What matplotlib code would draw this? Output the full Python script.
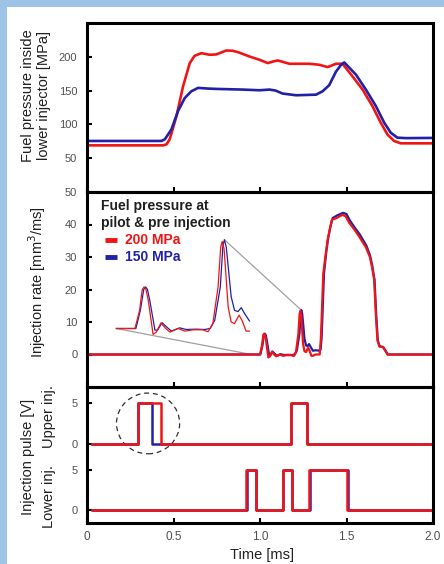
import numpy as np
import matplotlib
matplotlib.use('Agg')
import matplotlib.pyplot as plt
from matplotlib.patches import Ellipse, Rectangle

plt.rcParams['font.family'] = ['Liberation Sans', 'DejaVu Sans']

RED = '#f01414'
BLUE = '#2020a8'
GRAY_TXT = '#505050'

# ---------------- top panel: fuel pressure inside lower injector [MPa]
p_red_t = [0, 0.44, 0.46, 0.478, 0.517, 0.555, 0.594, 0.622, 0.661, 0.709, 0.747, 0.805,
           0.84, 0.872, 0.939, 0.997, 1.045, 1.075, 1.103, 1.17, 1.285, 1.343, 1.391,
           1.439, 1.477, 1.535, 1.593, 1.650, 1.698, 1.737, 1.775, 1.814, 2.0]
p_red_v = [69, 69, 70.5, 78, 112, 156, 190.7, 201.5, 205.4, 203, 203.5, 209.3,
           209, 206.9, 200.5, 195.6, 190.7, 193, 194.6, 189.7, 189.7, 188.2, 184.8,
           189.7, 189.7, 171, 151.5, 127, 102.5, 85, 75.5, 72, 72]
p_blue_t = [0, 0.43, 0.45, 0.488, 0.526, 0.565, 0.603, 0.642, 0.7, 0.747, 0.901, 0.997,
            1.055, 1.09, 1.131, 1.209, 1.324, 1.362, 1.40, 1.439, 1.468, 1.487, 1.555,
            1.612, 1.670, 1.718, 1.756, 1.794, 1.843, 2.0]
p_blue_v = [75.5, 75.5, 78, 92.6, 119.6, 139, 149, 154, 153, 152.5, 151.5, 150.5,
            151.5, 150, 145.6, 143.1, 144, 149, 158, 178, 188, 191.7, 173.5,
            151.5, 127, 102.5, 87.7, 80.4, 79.7, 80]

# ---------------- middle panel: injection rate [mm3/ms]
r_red_t = [0, 0.95, 0.9995, 1.012, 1.019, 1.024, 1.029, 1.035, 1.048, 1.057, 1.069,
           1.082, 1.093, 1.115, 1.133, 1.155, 1.181, 1.195, 1.208, 1.222, 1.229, 1.233,
           1.238, 1.249, 1.257, 1.266, 1.278, 1.286, 1.297, 1.306, 1.32, 1.345, 1.352,
           1.366, 1.38, 1.391, 1.405, 1.416, 1.443, 1.477, 1.495, 1.516, 1.545, 1.573,
           1.612, 1.635, 1.647, 1.66, 1.67, 1.679, 1.69, 1.71, 1.72, 1.737, 2.0]
r_red_v = [0, 0, 0, 2.8, 6.0, 6.4, 6.0, 4.4, -0.9, -0.55, 0.85,
           0, -0.55, 0, -0.4, -0.2, -0.2, -0.5, 0.75, 6.4, 12.5, 13.4,
           12.3, 3.3, 1.0, 0.75, 2.05, 1.25, -0.4, -0.4, 0, 0, 5,
           25, 31, 35.3, 39, 41.5, 42, 43, 42.5, 40.5, 38.5, 36.3,
           33, 30, 27, 23, 12, 4.3, 2.5, 2.3, 1.5, 0, 0]
r_blue_t = [0, 0.95, 1.002, 1.014, 1.023, 1.028, 1.033, 1.039, 1.053, 1.060, 1.072,
            1.086, 1.097, 1.119, 1.137, 1.164, 1.186, 1.201, 1.213, 1.228, 1.235, 1.239,
            1.244, 1.257, 1.266, 1.275, 1.284, 1.293, 1.306, 1.32, 1.34, 1.35, 1.356,
            1.37, 1.383, 1.394, 1.408, 1.42, 1.446, 1.48, 1.50, 1.52, 1.548, 1.576,
            1.615, 1.637, 1.649, 1.662, 1.672, 1.681, 1.692, 1.712, 1.722, 1.739, 2.0]
r_blue_v = [0, 0, 0, 2.8, 6.0, 6.4, 6.0, 4.4, -0.25, -0.25, 0.9,
            0.15, -0.4, 0.1, -0.15, -0.1, -0.15, 0, 1.25, 6.4, 12.8, 13.65,
            12.5, 4.9, 2.8, 2.6, 3.2, 2.3, 1.15, 1.3, 1.2, 1.5, 5,
            25, 31.5, 35.8, 39.5, 42, 42.8, 43.6, 43.2, 41.2, 39, 37,
            33.5, 30.3, 27.3, 23, 12, 4.3, 2.5, 2.3, 1.5, 0, 0]

# magnified view of pilot & pre injection (time window and scaling)
zoom_window = (0.95, 1.306)
zoom_t_ref, zoom_x_ref, zoom_kx = 1.024, 0.33, 2.16
zoom_y_ref, zoom_ky = 8.0, 2.0

# ---------------- bottom panel: injection pulses [V]
pulse_level = 5
upper_red_pulses = [(0.296, 0.425), (1.18, 1.27)]
upper_blue_pulses = [(0.296, 0.373), (1.18, 1.27)]
lower_pulses = [(0.92, 0.974), (1.131, 1.183), (1.285, 1.502)]
pulse_t_start, pulse_t_end = 0.03, 2.0
upper_offset = 8.2

x_ticks = [0, 0.5, 1.0, 1.5, 2.0]
x_ticklabels = ['0', '0.5', '1.0', '1.5', '2.0']


def pulse_trace(pulses, offset=0.0):
    t = [pulse_t_start]
    v = [offset]
    for on, off in pulses:
        t += [on, on, off, off]
        v += [offset, offset + pulse_level, offset + pulse_level, offset]
    t.append(pulse_t_end)
    v.append(offset)
    return t, v


W, H = 444, 564
fig = plt.figure(figsize=(W / 100, H / 100), dpi=100)
fig.patch.set_facecolor('#9dc3e6')
fig.patches.append(Rectangle((7 / W, 0), 1 - 7 / W, 1 - 7 / H, transform=fig.transFigure,
                             facecolor='white', edgecolor='none', zorder=-5))


def fx(px):
    return px / W


def fy(py):
    return 1 - py / H


left, right = 87, 433
ax1 = fig.add_axes([fx(left), fy(192), (right - left) / W, (192 - 23) / H])
ax2 = fig.add_axes([fx(left), fy(387), (right - left) / W, (387 - 192) / H])
ax3 = fig.add_axes([fx(left), fy(523), (right - left) / W, (523 - 387) / H])

for ax in (ax1, ax2, ax3):
    ax.set_zorder(2)
    ax.set_xlim(0, 2.0)
    for s in ax.spines.values():
        s.set_linewidth(2.2)
        s.set_color('black')
    ax.tick_params(direction='in', length=3.5, width=1.5, colors='black',
                   labelcolor=GRAY_TXT, labelsize=8)
    ax.tick_params(axis='y', pad=7)
    ax.set_xticks(x_ticks)
    ax.patch.set_alpha(0)

ax1.set_xticklabels([])
ax2.set_xticklabels([])
ax3.set_xticklabels(x_ticklabels)
ax3.tick_params(axis='x', pad=6, labelsize=8.5)

# top
ax1.plot(p_red_t, p_red_v, color=RED, lw=1.9, solid_joinstyle='round')
ax1.plot(p_blue_t, p_blue_v, color=BLUE, lw=1.9, solid_joinstyle='round')
ax1.set_ylim(0, 250)
ax1.set_yticks([50, 100, 150, 200])

# middle
ax2.plot(r_blue_t, r_blue_v, color=BLUE, lw=1.6, solid_joinstyle='round')
ax2.plot(r_red_t, r_red_v, color=RED, lw=1.6, solid_joinstyle='round')
ax2.set_ylim(-10, 50)
ax2.set_yticks([0, 10, 20, 30, 40, 50])


def to_zoom(t, v):
    t = np.asarray(t)
    v = np.asarray(v)
    m = (t >= zoom_window[0]) & (t <= zoom_window[1])
    return zoom_x_ref + (t[m] - zoom_t_ref) * zoom_kx, zoom_y_ref + v[m] * zoom_ky


bz_t, bz_v = to_zoom(r_blue_t, r_blue_v)
rz_t, rz_v = to_zoom(r_red_t, r_red_v)
ax2.plot(bz_t, bz_v, color=BLUE, lw=0.9, solid_joinstyle='round')
ax2.plot(rz_t, rz_v, color=RED, lw=0.9, solid_joinstyle='round')

# connector lines: inset start -> real start, inset peak -> real peak
pk = int(np.argmax(np.where(np.asarray(r_blue_t) < 1.3, r_blue_v, -99)))
start_t = zoom_window[0]
ax2.plot([zoom_x_ref + (start_t - zoom_t_ref) * zoom_kx, start_t],
         [zoom_y_ref, 0], color='#a0a0a0', lw=0.9, zorder=1)
ax2.plot([zoom_x_ref + (r_blue_t[pk] - zoom_t_ref) * zoom_kx, r_blue_t[pk]],
         [zoom_y_ref + r_blue_v[pk] * zoom_ky, r_blue_v[pk]], color='#a0a0a0', lw=0.9, zorder=1)

# legend text
ax2.text(0.04, 0.928, 'Fuel pressure at', transform=ax2.transAxes, fontsize=10,
         fontweight='bold', color='#202020', va='center', ha='left')
ax2.text(0.04, 0.841, 'pilot & pre injection', transform=ax2.transAxes, fontsize=10,
         fontweight='bold', color='#202020', va='center', ha='left')
for yy, lab, col in [(0.754, '200 MPa', RED), (0.667, '150 MPa', BLUE)]:
    ax2.plot([0.053, 0.087], [yy, yy], transform=ax2.transAxes, color=col, lw=3.5,
             solid_capstyle='butt')
    ax2.text(0.11, yy, lab, transform=ax2.transAxes, fontsize=10, fontweight='bold',
             color=col, va='center', ha='left')

# bottom
for pulses, col in [(upper_blue_pulses, BLUE), (upper_red_pulses, RED)]:
    t, v = pulse_trace(pulses, upper_offset)
    ax3.plot(t, v, color=col, lw=1.8)
t, v = pulse_trace(lower_pulses)
ax3.plot(np.asarray(t) + 0.004, v, color=BLUE, lw=1.8)
ax3.plot(t, v, color=RED, lw=1.8)
ax3.set_ylim(-1.6, 15.2)
ax3.set_yticks([0, 5, upper_offset, upper_offset + 5])
ax3.set_yticklabels(['0', '5', '0', '5'])
ax3.add_patch(Ellipse((0.353, 10.7), 0.365, 7.5, fill=False, ls=(0, (4, 3)),
                      lw=0.9, color='#303030'))

# axis labels
lab_kw = dict(fontsize=10.5, color='#202020', rotation=90, ha='center', va='center')
fig.text(fx(36), fy(96), 'Fuel pressure inside\nlower injector [MPa]', linespacing=1.15, **lab_kw)
fig.text(fx(37), fy(282), 'Injection rate [mm$^3$/ms]', **lab_kw)
fig.text(fx(28), fy(457), 'Injection pulse [V]', **lab_kw)
fig.text(fx(49), fy(417), 'Upper inj.', **lab_kw)
fig.text(fx(49), fy(497), 'Lower inj.', **lab_kw)
fig.text(fx(262), fy(555), 'Time [ms]', fontsize=10.5, color='#202020', ha='center', va='center')

fig.savefig('out.png', dpi=100, facecolor=fig.get_facecolor())
